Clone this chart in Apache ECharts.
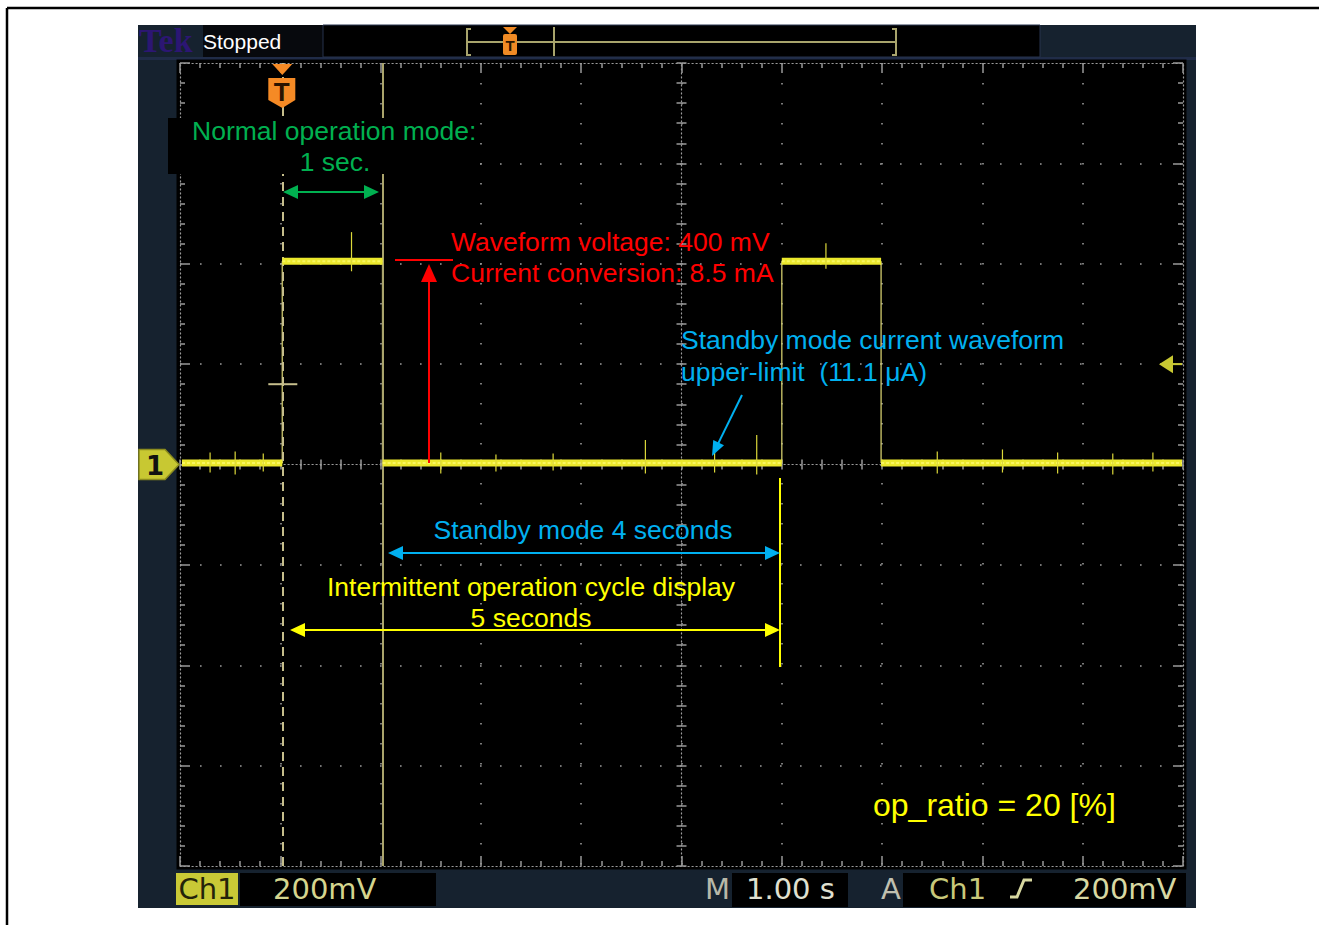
<!DOCTYPE html>
<html>
<head>
<meta charset="utf-8">
<script src="https://cdn.jsdelivr.net/npm/echarts@6/dist/echarts.min.js"></script>
<style>
html,body{margin:0;padding:0;background:#ffffff;overflow:hidden;}
#chart{width:1319px;height:925px;}
</style>
</head>
<body>
<div id="chart"></div>
<script>
// ---- values (time in s, amplitude in mV) ----
const segmentStart = [0.02, 1.02, 2.02, 6.00, 6.99];
const segmentEnd   = [1.02, 2.02, 6.00, 6.99, 9.99];
const segmentLevel = [3, 405, 3, 405, 3];
const spikeTime = [0.30, 0.55, 0.83, 1.71, 2.60, 3.15, 3.72, 4.64, 5.33, 5.75, 6.44, 7.55, 8.20, 8.75, 9.30, 9.70];
const spikeLow  = [-16, -20, -14, 385, -18, -14, -12, -18, -16, -20, 390, -18, -16, -18, -20, -14];
const spikeHigh = [24, 26, 22, 463, 24, 20, 22, 49, 36, 59, 441, 26, 30, 24, 22, 24];
const cursorA = 1.02;        // dashed cursor = trigger position
const cursorB = 2.02;        // solid cursor
const triggerLevel = 200;    // mV, right-hand marker
const crossLevel = 160;      // small cross on trigger cursor
const groundLevel = 0;       // channel 1 ground marker
const statusLabels = ['Ch1', '200mV', 'M', '1.00 s', 'A', 'Ch1', '200mV'];

const levelData = [];
segmentStart.forEach((s, i) => {
  levelData.push([s, segmentLevel[i]], [segmentEnd[i], segmentLevel[i]], [segmentEnd[i], '-']);
});
const edgeData = [];
for (let i = 0; i < segmentStart.length - 1; i++) {
  edgeData.push([segmentEnd[i], segmentLevel[i]], [segmentEnd[i], segmentLevel[i + 1]], [segmentEnd[i], '-']);
}
const spikeData = spikeTime.map((t, i) => [t, spikeLow[i], spikeHigh[i]]);

const chart = echarts.init(document.getElementById('chart'), null, {renderer: 'svg', width: 1319, height: 925});
const G = '#9a9a9a';

function ax(base, pos, offset, over) {
  return Object.assign({
    type: 'value', position: pos, offset: offset, silent: true, gridIndex: 0,
    axisLabel: {show: false}, splitLine: {show: false},
    axisLine: {show: true, onZero: false, lineStyle: {color: G, width: 1.2, type: [1.2, 2.8]}},
    axisTick: {show: true, inside: true, length: 10, lineStyle: {color: G, width: 1.5}},
    minorTick: {show: true, splitNumber: 5, length: 5, lineStyle: {color: G, width: 1.5}}
  }, base, over || {});
}
const XB = {min: 0, max: 10, interval: 1};
const YB = {min: -800, max: 800, interval: 200};
const centreTick = {axisTick: {show: true, inside: true, length: 5, lineStyle: {color: G, width: 1.5}}};

const option = {
  animation: false,
  backgroundColor: 'transparent',
  grid: {left: 180, top: 63, width: 1003, height: 803, show: true, backgroundColor: '#000', borderColor: '#000', borderWidth: 7},
  xAxis: [
    ax(XB, 'bottom', 0, {splitLine: {show: true, showMinLine: false, showMaxLine: false, lineStyle: {color: G, width: 1.6, type: [1.6, 18.4]}}}),
    ax(XB, 'top', 0),
    ax(XB, 'bottom', -401.5, centreTick),
    ax(XB, 'top', -401.5, Object.assign({axisLine: {show: false}}, centreTick))
  ],
  yAxis: [
    ax(YB, 'left', 0, {splitLine: {show: true, showMinLine: false, showMaxLine: false, lineStyle: {color: G, width: 1.6, type: [1.6, 18.4]}}}),
    ax(YB, 'right', 0),
    ax(YB, 'left', -501.5, centreTick),
    ax(YB, 'right', -501.5, Object.assign({axisLine: {show: false}}, centreTick))
  ],
  series: [
    {
      name: 'edges', type: 'line', xAxisIndex: 0, yAxisIndex: 0, data: edgeData, symbol: 'none', z: 4,
      lineStyle: {color: '#d6d070', width: 1.5, opacity: 0.85}, silent: true,
      markLine: {
        silent: true, symbol: ['none', 'none'], label: {show: false}, animation: false,
        data: [
          {xAxis: cursorB, lineStyle: {color: '#aaa46c', width: 2, type: 'solid'}},
          {xAxis: cursorA, lineStyle: {color: '#c6be8c', width: 2, type: [9, 6]}}
        ]
      }
    },
    {
      name: 'CH1', type: 'line', xAxisIndex: 0, yAxisIndex: 0, data: levelData, symbol: 'none', z: 6,
      connectNulls: false, silent: true,
      lineStyle: {color: '#ebe82c', width: 7}
    },
    {
      name: 'CH1 core', type: 'line', xAxisIndex: 0, yAxisIndex: 0, data: levelData, symbol: 'none', z: 7,
      connectNulls: false, silent: true,
      lineStyle: {color: '#f8f560', width: 2, type: [3, 2]}
    },
    {
      name: 'noise', type: 'custom', xAxisIndex: 0, yAxisIndex: 0, z: 8, silent: true,
      data: spikeData, encode: {x: 0, y: [1, 2]},
      renderItem: function (params, api) {
        const a = api.coord([api.value(0), api.value(1)]);
        const b = api.coord([api.value(0), api.value(2)]);
        return {type: 'line', shape: {x1: a[0], y1: a[1], x2: b[0], y2: b[1]}, style: {stroke: '#dcd83a', lineWidth: 1.2}};
      }
    }
  ]
};
chart.setOption(option);

const P = (t, v) => chart.convertToPixel({xAxisIndex: 0, yAxisIndex: 0}, [t, v]);

function line(x1, y1, x2, y2, color, w, z, dash) {
  return {type: 'line', z: z == null ? 100 : z, silent: true, shape: {x1, y1, x2, y2}, style: {stroke: color, lineWidth: w, lineDash: dash || null}};
}
function poly(points, fill, z, stroke, lw) {
  return {type: 'polygon', z: z == null ? 100 : z, silent: true, shape: {points}, style: {fill: fill, stroke: stroke || null, lineWidth: lw || 0}};
}
function polyline(points, color, w, z) {
  return {type: 'polyline', z: z == null ? 100 : z, silent: true, shape: {points}, style: {stroke: color, lineWidth: w, fill: null}};
}
function rect(x, y, w, h, fill, z, stroke, r) {
  return {type: 'rect', z: z == null ? 100 : z, silent: true, shape: {x, y, width: w, height: h, r: r || 0}, style: {fill, stroke: stroke || null, lineWidth: stroke ? 1 : 0}};
}
function text(str, x, y, font, fill, align, z) {
  return {type: 'text', z: z == null ? 110 : z, silent: true, x, y, style: {text: str, font, fill, align: align || 'left', verticalAlign: 'middle'}};
}
function head(tx, ty, fx, fy, len, hw, color) {
  const dx = tx - fx, dy = ty - fy, d = Math.hypot(dx, dy), ux = dx / d, uy = dy / d;
  const bx = tx - ux * len, by = ty - uy * len;
  return poly([[tx, ty], [bx - uy * hw, by + ux * hw], [bx + uy * hw, by - ux * hw]], color, 105);
}
function arrow(x1, y1, x2, y2, color, w, len, hw, both) {
  const d = Math.hypot(x2 - x1, y2 - y1), ux = (x2 - x1) / d, uy = (y2 - y1) / d;
  const sx = both ? x1 + ux * len * 0.7 : x1, sy = both ? y1 + uy * len * 0.7 : y1;
  const els = [line(sx, sy, x2 - ux * len * 0.7, y2 - uy * len * 0.7, color, w, 104), head(x2, y2, x1, y1, len, hw, color)];
  if (both) els.push(head(x1, y1, x2, y2, len, hw, color));
  return els;
}

const F = '26.5px "Liberation Sans", Arial, sans-serif';
const SF = '29px "DejaVu Sans", sans-serif';
const GREEN = '#00b050', RED = '#ff0000', BLUE = '#00b0f0', YEL = '#ffff00';

const gnd = P(0, groundLevel);
const trg = P(10, triggerLevel);
const tx = P(cursorA, 0)[0];
const cross = P(cursorA, crossLevel);
const els = [];

// page frame
els.push(line(7, 8, 1319, 8, '#000', 2.5, 0), line(7, 8, 7, 925, '#000', 2.5, 0));
// scope screen
els.push(rect(138, 25, 1058, 883, '#16222f', -10));
els.push(text('Tek', 139, 40, 'bold 34px "Liberation Serif", serif', '#2c1673', 'left', -5));
els.push(rect(203, 25, 120, 32, '#07090d', -5));
els.push(text('Stopped', 203, 41, '21px "Liberation Sans", Arial, sans-serif', '#ffffff'));
els.push(rect(323, 25, 717, 32, '#000000', -5, '#27324c'));
els.push(rect(138, 57, 1058, 3, '#202c48', -6));
// record-length bar
els.push(polyline([[471, 29], [467, 29], [467, 55], [471, 55]], '#a8a46c', 2));
els.push(polyline([[892, 29], [896, 29], [896, 55], [892, 55]], '#a8a46c', 2));
els.push(line(468, 42, 895, 42, '#a8a46c', 2));
els.push(line(554, 27, 554, 56, '#a8a46c', 2));
els.push(poly([[503, 27], [517, 27], [510, 34]], '#f08a24'));
els.push(rect(503, 34, 14, 21, '#f08a24', 100, null, 2));
els.push(text('T', 510, 45, 'bold 15px "Liberation Sans", sans-serif', '#2b1500', 'center'));

// trigger position marker
els.push(poly([[tx - 10, 64], [tx + 10, 64], [tx, 75]], '#f58a25'));
els.push(poly([[tx - 14, 78], [tx + 13, 78], [tx + 13, 100], [tx, 108], [tx - 14, 100]], '#f58a25'));
els.push(text('T', tx - 0.5, 92, 'bold 26px "Liberation Sans", sans-serif', '#2a1400', 'center'));
els.push(line(cross[0] - 14, cross[1], cross[0] + 15, cross[1], '#c6be8c', 2, 8));

// ground marker (channel 1)
els.push(poly([[139, gnd[1] - 15], [165, gnd[1] - 15], [179, gnd[1]], [165, gnd[1] + 15], [139, gnd[1] + 15]], '#c8c832', 100, '#8c8c1e', 1.5));
els.push(text('1', 155, gnd[1] + 1, 'bold 26px "DejaVu Sans", sans-serif', '#111111', 'center'));
// trigger level marker
els.push(poly([[1159, trg[1]], [1173, trg[1] - 9], [1173, trg[1] + 9]], '#c8c832'));
els.push(line(1172, trg[1], 1182, trg[1], '#c8c832', 2));

// green annotation
els.push(rect(168, 118, 312, 56, '#000', 50));
els.push(text('Normal operation mode:', 192, 131, F, GREEN));
els.push(text('1 sec.', 335, 162, F, GREEN, 'center'));
els.push(...arrow(283, 192, 379, 192, GREEN, 2, 15, 7, true));

// red annotation
els.push(text('Waveform voltage: 400 mV', 451, 242, F, RED));
els.push(text('Current conversion: 8.5 mA', 451, 273, F, RED));
els.push(line(395, 260, 453, 260, RED, 2));
els.push(...arrow(429, 463, 429, 264, RED, 2, 18, 8, false));

// blue annotations
els.push(text('Standby mode current waveform', 681, 340, F, BLUE));
els.push(text('upper-limit  (11.1 \u03bcA)', 681, 372, F, BLUE));
els.push(...arrow(742, 395, 712, 456, BLUE, 2, 15, 6, false));
els.push(text('Standby mode 4 seconds', 583, 530, F, BLUE, 'center'));
els.push(...arrow(388, 553, 780, 553, BLUE, 2, 15, 7, true));

// yellow annotations
els.push(text('Intermittent operation cycle display', 531, 587, F, YEL, 'center'));
els.push(text('5 seconds', 531, 618, F, YEL, 'center'));
els.push(...arrow(290, 630, 780, 630, YEL, 2, 15, 7, true));
els.push(line(780, 478, 780, 667, YEL, 2));
els.push(text('op_ratio = 20 [%]', 873, 805, '32px "Liberation Sans", Arial, sans-serif', YEL));

// status bar
els.push(rect(176, 873, 62, 32, '#c9c936', 50));
els.push(text(statusLabels[0], 207, 889, SF, '#23230a', 'center'));
els.push(rect(240, 873, 196, 33, '#000', 50));
els.push(text(statusLabels[1], 273, 889, SF, '#d5d58e'));
els.push(text(statusLabels[2], 705, 889, SF, '#b8b8a8'));
els.push(rect(732, 873, 116, 34, '#000', 50));
els.push(text(statusLabels[3], 746, 889, SF, '#e0e0d0'));
els.push(text(statusLabels[4], 881, 889, SF, '#c0c0b0'));
els.push(rect(903, 873, 283, 34, '#000', 50));
els.push(text(statusLabels[5], 929, 889, SF, '#c8c87a'));
els.push(polyline([[1010, 897], [1017, 897], [1024, 880], [1032, 880]], '#d8d8a0', 3));
els.push(text(statusLabels[6], 1073, 889, SF, '#d8d8a2'));

chart.setOption({graphic: {elements: els}});
</script>
</body>
</html>
